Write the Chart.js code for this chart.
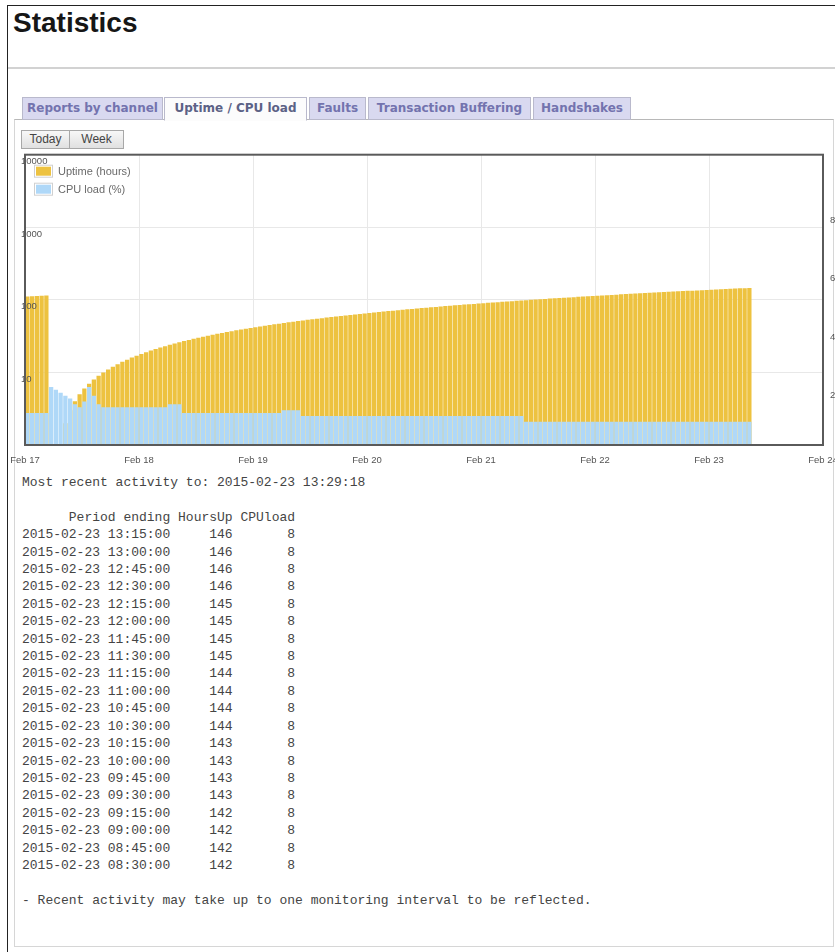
<!DOCTYPE html>
<html>
<head>
<meta charset="utf-8">
<title>Statistics</title>
<script src="https://cdn.jsdelivr.net/npm/chart.js@4.4.1/dist/chart.umd.min.js"></script>
<style>
html, body { margin: 0; padding: 0; width: 835px; height: 952px; overflow: hidden; background: #fff; }
.abs { position: absolute; }
#edgeTop { left: 7px; top: 5px; width: 900px; height: 1px; background: #222; }
#edgeLeft { left: 7px; top: 5px; width: 1px; height: 960px; background: #222; }
h1 { position: absolute; left: 13px; top: 9px; margin: 0; font: bold 28px/28px "Liberation Sans", Arial, sans-serif; color: #161616; }
#sep { left: 8px; top: 67px; width: 900px; height: 2px; background: #d2d2d2; }
#panel { left: 14px; top: 119px; width: 818px; height: 826px; border: 1px solid #d6d6d6; border-top-color: #b8b8b8; }
.tab { position: absolute; top: 97px; height: 21px; border: 1px solid #b9b9cc; background: #d9d9f0;
       font: bold 12px/21px "DejaVu Sans", Verdana, sans-serif; color: #7373ae; text-align: center; white-space: nowrap; }
.tab.active { background: #fcfcfc; color: #5c6286; border-bottom-color: #fcfcfc; height: 22px; }
.btn { position: absolute; top: 130px; height: 17px; border: 1px solid #a8a8a8; background: linear-gradient(#f8f8f8, #e0e0e0);
       font: 12px/17px "Liberation Sans", Arial, sans-serif; color: #444; text-align: center; }
#chartBox { left: 0; top: 142px; width: 863px; height: 325px; }
pre { position: absolute; left: 22px; top: 474px; margin: 0; font: 13px/17.4px "Liberation Mono", "DejaVu Sans Mono", monospace; color: #444; }
</style>
</head>
<body>
<div id="edgeTop" class="abs"></div>
<div id="edgeLeft" class="abs"></div>
<h1>Statistics</h1>
<div id="sep" class="abs"></div>
<div id="panel" class="abs"></div>
<div class="tab" style="left:22px;width:139px">Reports by channel</div>
<div class="tab active" style="left:164px;width:141px">Uptime / CPU load</div>
<div class="tab" style="left:309px;width:55px">Faults</div>
<div class="tab" style="left:368px;width:161px">Transaction Buffering</div>
<div class="tab" style="left:533px;width:96px">Handshakes</div>
<div class="btn" style="left:21px;width:47px">Today</div>
<div class="btn" style="left:69px;width:53px">Week</div>
<div id="chartBox" class="abs"><canvas id="grafico" width="863" height="325"></canvas></div>
<pre id="resumo"></pre>
<script>
// dias no eixo x (uma marca a cada 24 horas)
const dayLabels = ['Feb 17', 'Feb 18', 'Feb 19', 'Feb 20', 'Feb 21', 'Feb 22', 'Feb 23', 'Feb 24'];
const hoursPerDay = 24;

// eixo da esquerda (log) e da direita (%)
const uptimeTickValues = [1, 10, 100, 1000, 10000];
const uptimeTickLabels = ['', '10', '100', '1000', '10000'];
const cpuTickValues = [20, 40, 60, 80];

const seriesNames = ['Uptime (hours)', 'CPU load (%)'];

// uma barra por hora a partir de Feb 17 00:00
const uptimeHours = [
  111, 112, 113, 114, 115, null, null, 1, 2, 3, 4, 5, 6, 7, 8, 9, 10, 11, 12, 13, 14, 15, 16, 17,
  18, 19, 20, 21, 22, 23, 24, 25, 26, 27, 28, 29, 30, 31, 32, 33, 34, 35, 36, 37, 38, 39, 40, 41,
  42, 43, 44, 45, 46, 47, 48, 49, 50, 51, 52, 53, 54, 55, 56, 57, 58, 59, 60, 61, 62, 63, 64, 65,
  66, 67, 68, 69, 70, 71, 72, 73, 74, 75, 76, 77, 78, 79, 80, 81, 82, 83, 84, 85, 86, 87, 88, 89,
  90, 91, 92, 93, 94, 95, 96, 97, 98, 99, 100, 101, 102, 103, 104, 105, 106, 107, 108, 109, 110, 111, 112, 113,
  114, 115, 116, 117, 118, 119, 120, 121, 122, 123, 124, 125, 126, 127, 128, 129, 130, 131, 132, 133, 134, 135, 136, 137,
  138, 139, 140, 141, 142, 143, 144, 145, 146
];
const cpuLoad = [
  11, 11, 11, 11, 11, 20, 19, 18, 17, 16, 14, 13, 15, 20, 17, 14, 13, 13, 13, 13, 13, 13, 13, 13,
  13, 13, 13, 13, 13, 13, 14, 14, 14, 11, 11, 11, 11, 11, 11, 11, 11, 11, 11, 11, 11, 11, 11, 11,
  11, 11, 11, 11, 11, 11, 12, 12, 12, 12, 10, 10, 10, 10, 10, 10, 10, 10, 10, 10, 10, 10, 10, 10,
  10, 10, 10, 10, 10, 10, 10, 10, 10, 10, 10, 10, 10, 10, 10, 10, 10, 10, 10, 10, 10, 10, 10, 10,
  10, 10, 10, 10, 10, 10, 10, 10, 10, 8, 8, 8, 8, 8, 8, 8, 8, 8, 8, 8, 8, 8, 8, 8,
  8, 8, 8, 8, 8, 8, 8, 8, 8, 8, 8, 8, 8, 8, 8, 8, 8, 8, 8, 8, 8, 8, 8, 8,
  8, 8, 8, 8, 8, 8, 8, 8, 8
];

// tabela de texto abaixo do grafico
const lastActivity = '2015-02-23 13:29:18';
const periodEnding = [
  '2015-02-23 13:15:00', '2015-02-23 13:00:00', '2015-02-23 12:45:00', '2015-02-23 12:30:00',
  '2015-02-23 12:15:00', '2015-02-23 12:00:00', '2015-02-23 11:45:00', '2015-02-23 11:30:00',
  '2015-02-23 11:15:00', '2015-02-23 11:00:00', '2015-02-23 10:45:00', '2015-02-23 10:30:00',
  '2015-02-23 10:15:00', '2015-02-23 10:00:00', '2015-02-23 09:45:00', '2015-02-23 09:30:00',
  '2015-02-23 09:15:00', '2015-02-23 09:00:00', '2015-02-23 08:45:00', '2015-02-23 08:30:00'
];
const hoursUpRows = [146, 146, 146, 146, 145, 145, 145, 145, 144, 144, 144, 144, 143, 143, 143, 143, 142, 142, 142, 142];
const cpuLoadRows = [8, 8, 8, 8, 8, 8, 8, 8, 8, 8, 8, 8, 8, 8, 8, 8, 8, 8, 8, 8];

const colUptime = '#edc240';
const colCpu = '#afd8f8';

// texto da tabela
let linhas = ['Most recent activity to: ' + lastActivity, '', '      Period ending HoursUp CPUload'];
periodEnding.forEach(function (p, i) {
  linhas.push(p + String(hoursUpRows[i]).padStart(8) + String(cpuLoadRows[i]).padStart(8));
});
linhas.push('');
linhas.push('- Recent activity may take up to one monitoring interval to be reflected.');
document.getElementById('resumo').textContent = linhas.join('\n');

// legenda dentro da area do grafico
const legendaInterna = {
  id: 'legendaInterna',
  afterDatasetsDraw(chart) {
    const ctx = chart.ctx;
    const a = chart.chartArea;
    ctx.save();
    ctx.font = '11px "Liberation Sans", Arial, sans-serif';
    ctx.textBaseline = 'middle';
    chart.data.datasets.forEach(function (ds, i) {
      const y = a.top + 10 + i * 18;
      ctx.strokeStyle = '#d0d0d0';
      ctx.lineWidth = 1;
      ctx.strokeRect(a.left + 9.5, y + 0.5, 18, 12);
      ctx.fillStyle = ds.backgroundColor;
      ctx.fillRect(a.left + 11, y + 2, 15, 9);
      ctx.fillStyle = '#6a6a6a';
      ctx.fillText(ds.label, a.left + 33, y + 7);
    });
    ctx.restore();
  }
};

// moldura do grafico
const moldura = {
  id: 'moldura',
  afterDraw(chart) {
    const ctx = chart.ctx;
    const a = chart.chartArea;
    ctx.save();
    ctx.strokeStyle = '#5a5a5a';
    ctx.lineWidth = 2;
    ctx.strokeRect(a.left, a.top, a.right - a.left, a.bottom - a.top);
    ctx.restore();
  }
};

Chart.defaults.font.family = '"Liberation Sans", Arial, sans-serif';
Chart.defaults.color = '#545454';

const ctx = document.getElementById('grafico').getContext('2d');
new Chart(ctx, {
  type: 'bar',
  data: {
    datasets: [{
      label: seriesNames[0],
      data: uptimeHours.map(function (v, i) { return { x: i + 0.5, y: v }; }),
      backgroundColor: colUptime,
      yAxisID: 'y',
      order: 2
    }, {
      label: seriesNames[1],
      data: cpuLoad.map(function (v, i) { return { x: i + 0.5, y: v }; }),
      backgroundColor: colCpu,
      yAxisID: 'y2',
      order: 1
    }]
  },
  options: {
    responsive: false,
    animation: false,
    devicePixelRatio: 1,
    datasets: {
      bar: { grouped: false, categoryPercentage: 1, barPercentage: 0.9, inflateAmount: 0, borderWidth: 0 }
    },
    layout: { autoPadding: false, padding: { left: 25, top: 9, right: 0, bottom: 0 } },
    plugins: { legend: { display: false }, tooltip: { enabled: false } },
    scales: {
      x: {
        type: 'linear',
        min: 0,
        max: (dayLabels.length - 1) * hoursPerDay,
        offset: false,
        afterBuildTicks: function (s) { s.ticks = dayLabels.map(function (d, i) { return { value: i * hoursPerDay }; }); },
        afterFit: function (s) { s.height = 22; },
        grid: { color: '#e8e8e8', drawTicks: false, offset: false },
        border: { display: false },
        ticks: {
          autoSkip: false, maxRotation: 0, padding: 10, font: { size: 9.5 },
          callback: function (v, i) { return dayLabels[i]; }
        }
      },
      y: {
        type: 'logarithmic',
        position: 'left',
        min: 1,
        max: 10000,
        afterBuildTicks: function (s) { s.ticks = uptimeTickValues.map(function (v) { return { value: v }; }); },
        afterFit: function (s) { s.width = 0; },
        grid: { color: '#e8e8e8', drawTicks: false },
        border: { display: false },
        ticks: {
          mirror: true, padding: -4, labelOffset: 7, z: 1, font: { size: 9.5 },
          callback: function (v, i) { return uptimeTickLabels[i]; }
        }
      },
      y2: {
        type: 'linear',
        position: 'right',
        min: 0,
        max: 100,
        afterBuildTicks: function (s) { s.ticks = cpuTickValues.map(function (v) { return { value: v }; }); },
        afterFit: function (s) { s.width = 40; },
        grid: { display: false, drawTicks: false },
        border: { display: false },
        ticks: { padding: 7, labelOffset: 8, font: { size: 9.5 } }
      }
    }
  },
  plugins: [legendaInterna, moldura]
});
</script>
</body>
</html>
